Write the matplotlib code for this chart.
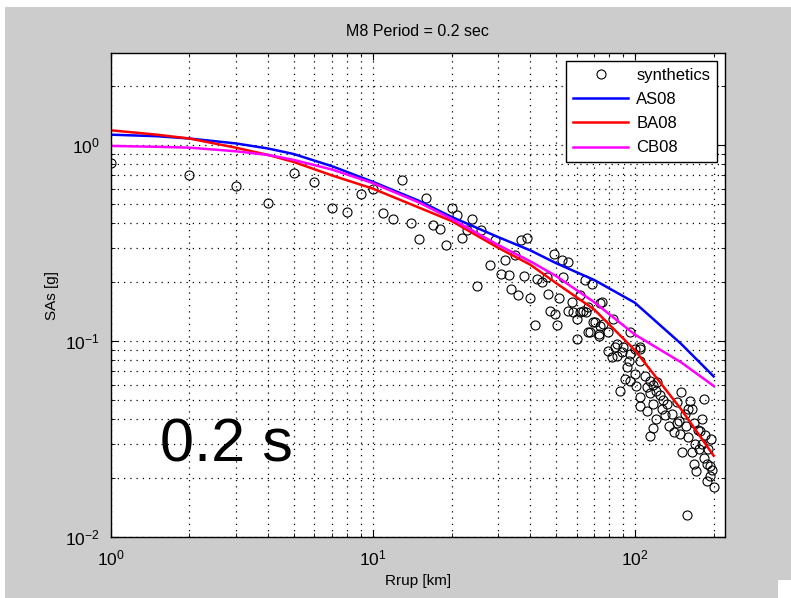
import matplotlib.pyplot as plt
from matplotlib.patches import Rectangle
import numpy as np

plt.rcParams["font.family"] = ["Liberation Sans", "DejaVu Sans"]
plt.rcParams["mathtext.default"] = "regular"

# model curves (Rrup km vs SA g)
r_model = [1, 1.5, 2, 3, 4, 5, 7, 10, 15, 20, 30, 40, 50, 70, 100, 150, 200]
as08 = [1.13, 1.11, 1.08, 1.02, 0.96, 0.90, 0.78, 0.65, 0.52, 0.43, 0.34, 0.29,
        0.25, 0.205, 0.157, 0.097, 0.066]
ba08 = [1.19, 1.13, 1.08, 0.97, 0.89, 0.82, 0.70, 0.60, 0.48, 0.41, 0.30, 0.245,
        0.198, 0.145, 0.090, 0.045, 0.026]
cb08 = [0.99, 0.98, 0.97, 0.93, 0.89, 0.84, 0.75, 0.64, 0.51, 0.42, 0.31, 0.255,
        0.215, 0.158, 0.108, 0.078, 0.059]

# synthetics
r_syn = [1, 2, 3, 4, 5, 6, 7, 8, 9, 10, 11, 12, 13, 14, 15, 16, 17, 18, 19, 20,
         21, 22, 23, 24, 25, 26, 28, 29.4, 31, 31.9, 33, 33.8, 35, 36, 36.8, 37.7,
         38.9, 39.9, 41.7, 42.3, 44.3, 46.4, 46.7, 47.6, 49, 49.6, 50.4, 51.6,
         52.8, 53.3, 55.6, 55.6, 57.5, 58, 60, 60, 61.9, 62, 63.6, 64.6, 65, 66.4,
         66.4, 67.7, 68.7, 69.6, 70.5, 72.8, 72.8, 73.7, 73.7, 75, 76, 79.4, 79.4,
         81.8, 82.9, 84, 85.5, 85.5, 88, 89.4, 90.5, 92, 93.7, 94.7, 95.9, 96, 96,
         100, 100, 101.5, 105, 105, 105, 105, 105, 109.6, 111, 111, 114.6, 114.6,
         114.6, 117.5, 117.5, 117.5, 121, 121, 125, 126.7, 130, 133, 135, 139,
         141, 145, 147, 149, 151, 155, 157, 158, 160, 163, 166, 167.6, 167.6, 170,
         172, 177.6, 180, 183, 183, 188, 188, 193, 193, 195, 200,
         190, 198, 180, 175, 160, 150, 186, 176, 165, 145, 128, 122]
sa_syn = [0.806, 0.70, 0.62, 0.505, 0.72, 0.65, 0.476, 0.454, 0.56, 0.60, 0.45,
          0.42, 0.66, 0.40, 0.333, 0.54, 0.39, 0.373, 0.31, 0.475, 0.44, 0.337,
          0.367, 0.42, 0.192, 0.367, 0.243, 0.327, 0.22, 0.258, 0.216, 0.185,
          0.274, 0.171, 0.327, 0.214, 0.337, 0.166, 0.121, 0.208, 0.20, 0.212,
          0.174, 0.142, 0.277, 0.138, 0.121, 0.166, 0.258, 0.212, 0.253, 0.143,
          0.158, 0.14, 0.103, 0.13, 0.171, 0.14, 0.143, 0.204, 0.14, 0.149, 0.111,
          0.111, 0.196, 0.125, 0.125, 0.109, 0.106, 0.156, 0.12, 0.158, 0.122,
          0.111, 0.0894, 0.0825, 0.13, 0.093, 0.0966, 0.0843, 0.0558, 0.0875,
          0.093, 0.064, 0.0734, 0.0795, 0.111, 0.086, 0.0627, 0.0909, 0.068,
          0.059, 0.093, 0.091, 0.0795, 0.0516, 0.0468, 0.0666, 0.058, 0.044,
          0.0627, 0.054, 0.0329, 0.06, 0.0476, 0.0362, 0.0558, 0.04, 0.0528,
          0.045, 0.0417, 0.0476, 0.037, 0.0424, 0.0342, 0.0486, 0.0393, 0.0337,
          0.027, 0.0424, 0.037, 0.0129, 0.0322, 0.0495, 0.045, 0.0383, 0.0235,
          0.0298, 0.0217, 0.0348, 0.04, 0.0506, 0.0254, 0.0235, 0.0194, 0.0231,
          0.0205, 0.0316, 0.0179,
          0.028, 0.022, 0.030, 0.035, 0.045, 0.055, 0.033, 0.028, 0.027, 0.038,
          0.050, 0.062]

fig = plt.figure(figsize=(7.91, 5.98), dpi=100, facecolor="white")
fig.patches.append(Rectangle((5 / 791, 0), 1, 1 - 7 / 598, transform=fig.transFigure,
                             facecolor="#cccccc", edgecolor="none", zorder=-10))
fig.patches.append(Rectangle((778 / 791, 0), 13 / 791, 18 / 598, transform=fig.transFigure,
                             facecolor="white", edgecolor="none", zorder=-9))

ax = fig.add_axes([110.5 / 791, 61 / 598, 614.5 / 791, 484 / 598])
ax.set_xscale("log")
ax.set_yscale("log")

ax.plot(r_syn, sa_syn, ls="none", marker="o", markersize=6.5, markerfacecolor="none",
        markeredgecolor="k", markeredgewidth=0.8, label="synthetics")
ax.plot(r_model, as08, color="#0000ff", lw=1.8, label="AS08")
ax.plot(r_model, ba08, color="#ff0000", lw=1.8, label="BA08")
ax.plot(r_model, cb08, color="#ff00ff", lw=1.8, label="CB08")

ax.set_xlim(1, 221)
ax.set_ylim(0.01, 2.95)
ax.grid(True, which="both", color="k", linestyle=(0, (1, 4)), linewidth=0.9)
ax.tick_params(which="both", direction="in", top=True, right=True, labelsize=12.5,
               pad=8)
ax.tick_params(which="major", length=5)
ax.tick_params(which="minor", length=3)
for s in ax.spines.values():
    s.set_linewidth(1.0)

ax.set_xlabel("Rrup [km]", fontsize=11)
ax.set_ylabel("SAs [g]", fontsize=11)
ax.set_title("M8 Period = 0.2 sec", fontsize=11.5, pad=12)

leg = ax.legend(loc="upper right", bbox_to_anchor=(0.987, 0.983), borderaxespad=0,
                fancybox=False, edgecolor="k", framealpha=1, fontsize=12,
                handlelength=3.3, handletextpad=0.5, labelspacing=0.55)
leg.get_frame().set_linewidth(1.0)

fig.text(160 / 791, 1 - 462 / 598, "0.2 s", fontsize=44, color="k")

plt.savefig("out.png", dpi=100)
